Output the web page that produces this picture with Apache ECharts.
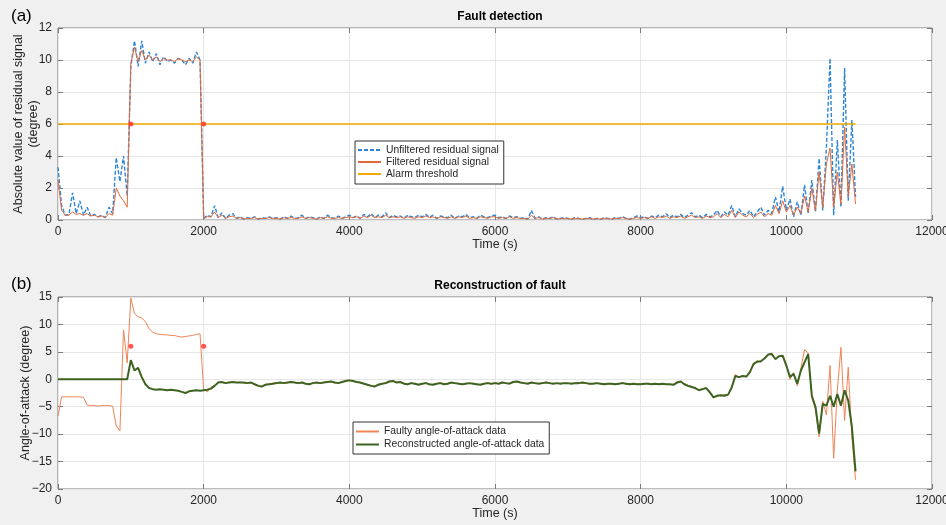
<!DOCTYPE html>
<html>
<head>
<meta charset="utf-8">
<title>Fault detection and reconstruction</title>
<script src="https://cdn.jsdelivr.net/npm/echarts@6.0.0/dist/echarts.min.js"></script>
<style>
  html, body { margin: 0; padding: 0; background: #f0f0f0; }
  #chart { width: 946px; height: 525px; }
</style>
</head>
<body>
<div id="chart"></div>
<script>
// samples every 50 s, from 0 to 10950 s (one row = 1000 s)
const sampleStep = 50;

// (a) absolute residual, unfiltered
const unfilteredResidual = [
  3.3, 0.9, 0.3, 0.35, 1.7, 0.4, 1.2, 0.3, 0.8, 0.25, 0.35, 0.2, 0.3, 0.15, 0.8, 0.4, 3.9, 2.4, 4.0, 1.5,
  9.6, 11.2, 9.6, 11.2, 9.8, 10.5, 9.9, 10.4, 9.7, 10.2, 9.9, 10.0, 9.8, 10.1, 10.0, 9.7, 10.1, 9.8, 10.5, 10.0,
  0.1, 0.3, 0.2, 0.9, 0.15, 0.45, 0.1, 0.3, 0.4, 0.1, 0.2, 0.05, 0.15, 0.1, 0.2, 0.05, 0.15, 0.1, 0.2, 0.1,
  0.15, 0.05, 0.2, 0.1, 0.25, 0.1, 0.15, 0.3, 0.1, 0.2, 0.15, 0.05, 0.2, 0.1, 0.3, 0.15, 0.1, 0.25, 0.1, 0.2,
  0.3, 0.15, 0.25, 0.1, 0.35, 0.2, 0.4, 0.15, 0.3, 0.2, 0.45, 0.15, 0.3, 0.2, 0.25, 0.1, 0.3, 0.2, 0.15, 0.3,
  0.2, 0.35, 0.15, 0.3, 0.1, 0.25, 0.2, 0.15, 0.3, 0.1, 0.25, 0.2, 0.35, 0.15, 0.2, 0.1, 0.3, 0.2, 0.15, 0.25,
  0.3, 0.15, 0.2, 0.1, 0.25, 0.15, 0.2, 0.1, 0.15, 0.05, 0.6, 0.1, 0.2, 0.05, 0.15, 0.1, 0.2, 0.05, 0.1, 0.15,
  0.1, 0.05, 0.15, 0.1, 0.05, 0.1, 0.15, 0.05, 0.1, 0.05, 0.15, 0.1, 0.05, 0.15, 0.1, 0.2, 0.1, 0.05, 0.15, 0.25,
  0.15, 0.2, 0.1, 0.25, 0.15, 0.3, 0.2, 0.4, 0.15, 0.3, 0.2, 0.35, 0.15, 0.3, 0.45, 0.2, 0.3, 0.15, 0.35, 0.2,
  0.3, 0.6, 0.2, 0.5, 0.3, 0.9, 0.2, 0.7, 0.4, 0.3, 0.6, 0.2, 0.5, 0.8, 0.3, 0.6, 0.4, 1.45, 0.5, 2.1,
  0.6, 1.3, 0.2, 1.15, 0.3, 2.2, 0.4, 2.5, 0.5, 3.85, 0.6, 4.5, 10.1, 0.3, 5.0, 0.8, 9.5, 1.2, 6.25, 1.45
];

// (a) absolute residual, filtered
const filteredResidual = [
  2.5, 0.6, 0.3, 0.3, 0.5, 0.35, 0.4, 0.3, 0.4, 0.25, 0.3, 0.2, 0.25, 0.15, 0.4, 0.3, 2.0, 1.5, 1.2, 0.8,
  9.8, 10.8, 9.9, 10.6, 10.0, 10.3, 10.0, 10.2, 9.9, 10.1, 10.0, 10.0, 9.9, 10.1, 10.0, 9.9, 10.0, 9.9, 10.2, 10.0,
  0.1, 0.2, 0.2, 0.5, 0.15, 0.3, 0.1, 0.2, 0.25, 0.1, 0.15, 0.05, 0.1, 0.1, 0.15, 0.05, 0.1, 0.1, 0.15, 0.1,
  0.1, 0.05, 0.15, 0.1, 0.15, 0.1, 0.1, 0.2, 0.1, 0.15, 0.1, 0.05, 0.15, 0.1, 0.2, 0.1, 0.1, 0.15, 0.1, 0.15,
  0.2, 0.15, 0.2, 0.1, 0.25, 0.15, 0.3, 0.15, 0.2, 0.15, 0.3, 0.15, 0.2, 0.15, 0.2, 0.1, 0.2, 0.15, 0.1, 0.2,
  0.15, 0.25, 0.15, 0.2, 0.1, 0.2, 0.15, 0.1, 0.2, 0.1, 0.2, 0.15, 0.25, 0.1, 0.15, 0.1, 0.2, 0.15, 0.1, 0.2,
  0.2, 0.1, 0.15, 0.1, 0.2, 0.1, 0.15, 0.1, 0.1, 0.05, 0.3, 0.1, 0.15, 0.05, 0.1, 0.1, 0.15, 0.05, 0.1, 0.1,
  0.1, 0.05, 0.1, 0.1, 0.05, 0.1, 0.1, 0.05, 0.1, 0.05, 0.1, 0.1, 0.05, 0.1, 0.1, 0.15, 0.1, 0.05, 0.1, 0.15,
  0.1, 0.15, 0.1, 0.2, 0.1, 0.2, 0.15, 0.25, 0.1, 0.2, 0.15, 0.25, 0.1, 0.2, 0.3, 0.15, 0.2, 0.1, 0.25, 0.15,
  0.2, 0.4, 0.15, 0.35, 0.2, 0.6, 0.15, 0.5, 0.3, 0.2, 0.4, 0.15, 0.35, 0.5, 0.2, 0.4, 0.3, 0.9, 0.4, 1.2,
  0.5, 0.9, 0.3, 0.8, 0.4, 1.5, 0.5, 2.0, 0.6, 3.0, 0.8, 3.5, 4.5, 0.8, 3.0, 1.0, 5.8, 1.5, 3.5, 1.0
];

// (b) angle of attack, faulty measurement
const faultyAoa = [
  -6.7, -3.2, -3.2, -3.2, -3.2, -3.2, -3.2, -3.3, -4.7, -4.8, -4.8, -4.9, -4.8, -4.8, -4.8, -4.9, -8.5, -9.4, 9.0, 3.0,
  14.8, 12.0, 11.4, 11.2, 10.5, 9.2, 8.6, 8.3, 8.2, 8.1, 8.1, 8.0, 8.0, 7.8, 7.7, 7.8, 7.9, 8.0, 8.2, 8.3,
  -1.8, -2.3, -1.5, -1.1, -0.5, -0.6, -0.7, -0.5, -0.6, -0.6, -0.5, -0.7, -0.7, -0.5, -1.0, -1.1, -1.4, -0.9, -0.9, -0.7,
  -0.6, -0.7, -0.6, -0.7, -0.4, -0.6, -0.8, -0.5, -0.8, -1.0, -0.6, -0.6, -0.8, -0.5, -0.4, -0.4, -0.7, -0.6, -0.5, -0.2,
  -0.1, -0.4, -0.4, -0.7, -0.7, -1.1, -1.1, -1.4, -0.9, -0.8, -0.6, -0.3, -0.4, -0.5, -0.6, -0.7, -1.0, -0.6, -0.9, -0.9,
  -0.9, -0.6, -1.0, -0.9, -0.8, -0.6, -1.0, -0.7, -0.6, -0.8, -0.7, -1.0, -0.7, -0.8, -0.7, -1.0, -0.9, -0.8, -0.6, -0.9,
  -0.6, -0.8, -0.5, -0.8, -0.7, -0.4, -0.5, -0.6, -0.8, -0.7, -0.6, -0.8, -0.7, -0.7, -0.5, -0.8, -0.7, -0.8, -0.7, -0.7,
  -0.8, -0.7, -0.7, -0.6, -0.7, -0.7, -0.9, -0.7, -0.7, -0.9, -0.8, -0.8, -0.9, -0.8, -0.8, -0.6, -0.9, -0.8, -0.9, -0.8,
  -0.8, -0.9, -0.7, -0.9, -0.9, -0.8, -0.8, -0.9, -1.0, -0.9, -0.4, -0.5, -0.8, -1.1, -1.3, -1.7, -1.9, -1.7, -1.7, -2.2,
  -3.4, -2.9, -3.0, -2.8, -2.9, -1.3, 0.9, 0.3, 0.7, 0.4, 1.5, 2.6, 3.4, 3.1, 3.9, 4.4, 4.8, 3.5, 4.3, 4.1,
  2.8, 0.0, 1.2, -1.2, 2.0, 5.4, 4.8, -3.4, -5.5, -10.5, -4.0, -6.5, 2.5, -14.4, -2.0, 5.8, -7.5, 2.2, -10.5, -18.3
];

// (b) angle of attack, reconstructed
const reconstructedAoa = [
  0, 0, 0, 0, 0, 0, 0, 0, 0, 0, 0, 0, 0, 0, 0, 0, 0, 0, 0, 0,
  3.5, 1.6, 2.1, 0.4, -0.9, -1.6, -1.8, -1.9, -1.8, -1.9, -2.0, -1.9, -2.0, -2.1, -2.3, -2.5, -2.2, -2.1, -2.0, -2.1,
  -2.0, -1.9, -1.7, -1.2, -0.6, -0.5, -0.7, -0.6, -0.5, -0.6, -0.6, -0.6, -0.7, -0.6, -0.9, -1.2, -1.3, -1.0, -0.9, -0.8,
  -0.7, -0.6, -0.7, -0.6, -0.5, -0.6, -0.7, -0.6, -0.8, -0.9, -0.7, -0.6, -0.7, -0.6, -0.5, -0.4, -0.6, -0.7, -0.5, -0.3,
  -0.2, -0.3, -0.5, -0.6, -0.8, -1.0, -1.2, -1.3, -1.0, -0.8, -0.7, -0.4, -0.3, -0.6, -0.5, -0.8, -0.9, -0.7, -0.8, -1.0,
  -0.8, -0.7, -0.9, -1.0, -0.8, -0.7, -0.9, -0.8, -0.6, -0.7, -0.8, -0.9, -0.8, -0.7, -0.8, -0.9, -1.0, -0.8, -0.7, -0.8,
  -0.7, -0.8, -0.6, -0.7, -0.8, -0.5, -0.4, -0.6, -0.7, -0.8, -0.6, -0.7, -0.8, -0.7, -0.6, -0.7, -0.8, -0.7, -0.8, -0.7,
  -0.7, -0.8, -0.7, -0.7, -0.6, -0.7, -0.8, -0.8, -0.7, -0.8, -0.9, -0.8, -0.8, -0.9, -0.8, -0.7, -0.8, -0.9, -0.8, -0.9,
  -0.9, -0.8, -0.8, -0.9, -0.8, -0.9, -0.8, -0.9, -0.9, -1.0, -0.6, -0.4, -0.9, -1.2, -1.4, -1.6, -2.0, -1.8, -1.6, -2.4,
  -3.3, -3.0, -2.9, -3.0, -2.8, -1.5, 0.6, 0.4, 0.6, 0.5, 1.3, 2.8, 3.2, 3.3, 3.8, 4.5, 4.6, 3.7, 4.2, 4.3,
  2.5, 0.4, 1.0, -0.8, 1.6, 3.1, 4.6, -3.0, -5.0, -9.9, -4.5, -4.8, -3.0, -5.0, -2.7, -4.8, -2.0, -3.9, -8.7, -16.8
];

const alarmThreshold = 6;
const thresholdSpan = [0, 10950];
const alarmTimes = [1000, 2000];

const timeTicks = { min: 0, max: 12000, interval: 2000 };
const residualTicks = { min: 0, max: 12, interval: 2 };
const aoaTicks = { min: -20, max: 15, interval: 5 };

const FONT = "'Liberation Sans', Arial, sans-serif";
const AXIS_GRAY = "#7a7a7a";

function toPairs(values) {
  return values.map((v, i) => [i * sampleStep, v]);
}

const tickStyle = { inside: true, length: 5, lineStyle: { color: AXIS_GRAY } };
const hiddenLine = { show: false, onZero: false };

function mainX(gridIndex) {
  return {
    type: "value", gridIndex, position: "bottom", ...timeTicks,
    name: "Time (s)", nameLocation: "middle", nameGap: 18, nameMoveOverlap: false,
    nameTextStyle: { fontFamily: FONT, fontSize: 12.5, color: "#262626" },
    axisLine: hiddenLine,
    axisTick: tickStyle,
    axisLabel: { fontFamily: FONT, fontSize: 12, color: "#262626", margin: 6, formatter: (v) => String(v) },
    splitLine: { show: true, lineStyle: { color: "#e6e6e6" } },
  };
}

function topX(gridIndex) {
  return {
    type: "value", gridIndex, position: "top", ...timeTicks,
    axisLine: hiddenLine,
    axisTick: tickStyle,
    axisLabel: { show: false },
    splitLine: { show: false },
  };
}

function mainY(gridIndex, ticks, name, nameGap) {
  return {
    type: "value", gridIndex, position: "left", ...ticks,
    name, nameLocation: "middle", nameRotate: 90, nameGap, nameMoveOverlap: false,
    nameTextStyle: { fontFamily: FONT, fontSize: 12.5, color: "#262626", lineHeight: 15 },
    axisLine: hiddenLine,
    axisTick: tickStyle,
    axisLabel: {
      fontFamily: FONT, fontSize: 12, color: "#262626", margin: 6,
      formatter: (v) => String(v).replace("-", "\u2212"),
    },
    splitLine: { show: true, lineStyle: { color: "#e6e6e6" } },
  };
}

function rightY(gridIndex, ticks) {
  return {
    type: "value", gridIndex, position: "right", ...ticks,
    axisLine: hiddenLine,
    axisTick: tickStyle,
    axisLabel: { show: false },
    splitLine: { show: false },
  };
}

const legendBase = {
  orient: "vertical", itemGap: 0, itemWidth: 23, selectedMode: false,
  backgroundColor: "#fff", borderColor: "#333", borderWidth: 1, borderRadius: 0,
  itemStyle: { opacity: 0 },
};

const chart = echarts.init(document.getElementById("chart"));
chart.setOption({
  animation: false,
  backgroundColor: "#f0f0f0",
  title: [
    { text: "Fault detection", left: 495, top: 6, textAlign: "center",
      textStyle: { fontFamily: FONT, fontSize: 12, fontWeight: "bold", color: "#000" } },
    { text: "Reconstruction of fault", left: 495, top: 275, textAlign: "center",
      textStyle: { fontFamily: FONT, fontSize: 12, fontWeight: "bold", color: "#000" } },
    { text: "(a)", left: 6, top: 3, textStyle: { fontFamily: FONT, fontSize: 17, fontWeight: "normal", color: "#000" } },
    { text: "(b)", left: 6, top: 271, textStyle: { fontFamily: FONT, fontSize: 17, fontWeight: "normal", color: "#000" } },
  ],
  grid: [
    { left: 58, top: 28, width: 874, height: 192, containLabel: false, outerBoundsMode: "none",
      show: true, backgroundColor: "#fff", borderColor: AXIS_GRAY, borderWidth: 1 },
    { left: 58, top: 297, width: 874, height: 192, containLabel: false, outerBoundsMode: "none",
      show: true, backgroundColor: "#fff", borderColor: AXIS_GRAY, borderWidth: 1 },
  ],
  legend: [
    {
      ...legendBase,
      data: ["Unfiltered residual signal", "Filtered residual signal", "Alarm threshold"],
      left: 355, top: 141, padding: [3, 5, 4, 2], itemHeight: 12,
      textStyle: { fontFamily: FONT, fontSize: 10.3, color: "#262626", lineHeight: 12 },
    },
    {
      ...legendBase,
      data: ["Faulty angle-of-attack data", "Reconstructed angle-of-attack data"],
      left: 353, top: 422, padding: [3, 5, 3, 2], itemHeight: 13,
      textStyle: { fontFamily: FONT, fontSize: 10.3, color: "#262626", lineHeight: 13 },
    },
  ],
  xAxis: [mainX(0), topX(0), mainX(1), topX(1)],
  yAxis: [
    mainY(0, residualTicks, "Absolute value of residual signal\n(degree)", 17),
    rightY(0, residualTicks),
    mainY(1, aoaTicks, "Angle-of-attack (degree)", 25),
    rightY(1, aoaTicks),
  ],
  series: [
    {
      name: "Unfiltered residual signal", type: "line", xAxisIndex: 0, yAxisIndex: 0,
      data: toPairs(unfilteredResidual), showSymbol: false, symbol: "none",
      lineStyle: { color: "#2e86d4", width: 1.4, type: [4, 2] }, itemStyle: { color: "#2e86d4" },
    },
    {
      name: "Filtered residual signal", type: "line", xAxisIndex: 0, yAxisIndex: 0,
      data: toPairs(filteredResidual), showSymbol: false, symbol: "none",
      lineStyle: { color: "#e2693a", width: 1 }, itemStyle: { color: "#e2693a" },
    },
    {
      name: "Alarm threshold", type: "line", xAxisIndex: 0, yAxisIndex: 0,
      data: thresholdSpan.map((t) => [t, alarmThreshold]), showSymbol: false, symbol: "none",
      lineStyle: { color: "#f2a900", width: 1.5 }, itemStyle: { color: "#f2a900" },
    },
    {
      name: "alarm-a", type: "scatter", xAxisIndex: 0, yAxisIndex: 0,
      data: alarmTimes.map((t) => [t, alarmThreshold]), symbolSize: 5, z: 5,
      itemStyle: { color: "#ff2a2a" },
    },
    {
      name: "Faulty angle-of-attack data", type: "line", xAxisIndex: 2, yAxisIndex: 2,
      data: toPairs(faultyAoa), showSymbol: false, symbol: "none",
      lineStyle: { color: "#ef8456", width: 1 }, itemStyle: { color: "#ef8456" },
    },
    {
      name: "Reconstructed angle-of-attack data", type: "line", xAxisIndex: 2, yAxisIndex: 2,
      data: toPairs(reconstructedAoa), showSymbol: false, symbol: "none",
      lineStyle: { color: "#3d6320", width: 2 }, itemStyle: { color: "#3d6320" },
    },
    {
      name: "alarm-b", type: "scatter", xAxisIndex: 2, yAxisIndex: 2,
      data: alarmTimes.map((t) => [t, alarmThreshold]), symbolSize: 5, z: 5,
      itemStyle: { color: "#ff2a2a" },
    },
  ],
});
</script>
</body>
</html>
